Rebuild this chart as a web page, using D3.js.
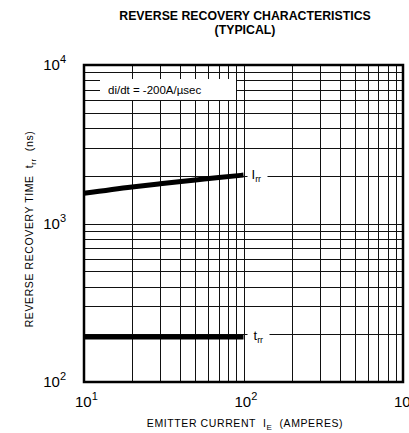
<!DOCTYPE html>
<html>
<head>
<meta charset="utf-8">
<script src="https://cdn.jsdelivr.net/npm/d3@7"></script>
<style>
  body { margin: 0; background: #fff; }
  svg { display: block; font-family: "Liberation Sans", Arial, sans-serif; }
</style>
</head>
<body>
<svg id="chart" width="409" height="433"></svg>
<script>
// values (log-log)
var irrCurrent = [10, 20, 30, 50, 70, 100]
var irrValues = [1550, 1700, 1780, 1880, 1950, 2020]
var trrCurrent = [10, 100]
var trrValues = [192, 192]
var xDecades = [10, 100, 1000]
var xDecadeLabels = ["1", "2", "3"]
var yDecades = [100, 1000, 10000]
var yDecadeLabels = ["2", "3", "4"]

var svg = d3.select("#chart")
var plotLeft = 84, plotRight = 403, plotTop = 65, plotBottom = 382

var x = d3.scaleLog().domain([10, 1000]).range([plotLeft, plotRight])
var y = d3.scaleLog().domain([100, 10000]).range([plotBottom, plotTop])

// title
svg.append("text")
  .attr("x", 245).attr("y", 20)
  .attr("text-anchor", "middle")
  .attr("font-weight", "bold").attr("font-size", 12.3)
  .text("REVERSE RECOVERY CHARACTERISTICS")
svg.append("text")
  .attr("x", 245).attr("y", 34)
  .attr("text-anchor", "middle")
  .attr("font-weight", "bold").attr("font-size", 12.3)
  .text("(TYPICAL)")

// grid
var xGrid = x.ticks().filter(function(d){ return d > 10 && d < 1000 })
var yGrid = y.ticks().filter(function(d){ return d > 100 && d < 10000 })

var grid = svg.append("g").attr("stroke", "#111").attr("stroke-width", 1)
grid.selectAll(".vx").data(xGrid).enter().append("line")
  .attr("x1", function(d){ return Math.round(x(d)) + 0.5 })
  .attr("x2", function(d){ return Math.round(x(d)) + 0.5 })
  .attr("y1", plotTop).attr("y2", plotBottom)
grid.selectAll(".hy").data(yGrid).enter().append("line")
  .attr("y1", function(d){ return Math.round(y(d)) + 0.5 })
  .attr("y2", function(d){ return Math.round(y(d)) + 0.5 })
  .attr("x1", plotLeft).attr("x2", plotRight)

// frame
svg.append("rect")
  .attr("x", plotLeft).attr("y", plotTop)
  .attr("width", plotRight - plotLeft).attr("height", plotBottom - plotTop)
  .attr("fill", "none").attr("stroke", "#000").attr("stroke-width", 2.5)

// annotation box
svg.append("rect")
  .attr("x", 100).attr("y", 79).attr("width", 136).attr("height", 21)
  .attr("fill", "#fff")
svg.append("line")
  .attr("x1", 236).attr("x2", plotRight).attr("y1", 100.5).attr("y2", 100.5)
  .attr("stroke", "#111")
svg.append("text")
  .attr("x", 108).attr("y", 94)
  .attr("font-size", 11.5)
  .text("di/dt = -200A/\u00b5sec")

// curves
var line = d3.line()
  .x(function(d){ return x(d[0]) })
  .y(function(d){ return y(d[1]) })
  .curve(d3.curveMonotoneX)

svg.append("path")
  .datum(d3.zip(irrCurrent, irrValues))
  .attr("d", line)
  .attr("fill", "none").attr("stroke", "#000").attr("stroke-width", 5)
svg.append("path")
  .datum(d3.zip(trrCurrent, trrValues))
  .attr("d", line)
  .attr("fill", "none").attr("stroke", "#000").attr("stroke-width", 5)

// curve labels
function subLabel(px, py, main, sub){
  var t = svg.append("text").attr("x", px).attr("y", py).attr("font-size", 13)
  t.append("tspan").text(main)
  t.append("tspan").attr("font-size", 9).attr("dy", 3).text(sub)
}
var irrEnd = [irrCurrent[irrCurrent.length - 1], irrValues[irrValues.length - 1]]
var trrEnd = [trrCurrent[trrCurrent.length - 1], trrValues[trrValues.length - 1]]
svg.append("rect").attr("x", x(irrEnd[0]) + 4).attr("y", y(irrEnd[1]) - 10)
  .attr("width", 20).attr("height", 18).attr("fill", "#fff")
svg.append("rect").attr("x", x(trrEnd[0]) + 4).attr("y", y(trrEnd[1]) - 10)
  .attr("width", 22).attr("height", 18).attr("fill", "#fff")
subLabel(x(irrEnd[0]) + 8, y(irrEnd[1]) + 4, "I", "rr")
subLabel(x(trrEnd[0]) + 10, y(trrEnd[1]) + 3, "t", "rr")

// tick labels
function powLabel(px, py, anchor, exp){
  var t = svg.append("text").attr("x", px).attr("y", py)
    .attr("text-anchor", anchor).attr("font-size", 15)
  t.append("tspan").text("10")
  t.append("tspan").attr("font-size", 11).attr("dy", -7).text(exp)
}
xDecades.forEach(function(d, i){
  powLabel(x(d) - 9, 407, "start", xDecadeLabels[i])
})
yDecades.forEach(function(d, i){
  powLabel(66, y(d) + 5, "end", yDecadeLabels[i])
})

// axis titles
var xt = svg.append("text").attr("x", 245).attr("y", 427)
  .attr("text-anchor", "middle").attr("font-size", 10.5)
  .attr("letter-spacing", 0.6).attr("xml:space", "preserve")
xt.append("tspan").text("EMITTER CURRENT  I")
xt.append("tspan").attr("font-size", 8).attr("dy", 3).text("E")
xt.append("tspan").attr("dy", -3).text("  (AMPERES)")

var yt = svg.append("text")
  .attr("transform", "translate(33,229) rotate(-90)")
  .attr("text-anchor", "middle").attr("font-size", 10.5)
  .attr("letter-spacing", 0.6).attr("xml:space", "preserve")
yt.append("tspan").text("REVERSE RECOVERY TIME  t")
yt.append("tspan").attr("font-size", 8).attr("dy", 3).text("rr")
yt.append("tspan").attr("dy", -3).text("  (ns)")
</script>
</body>
</html>
